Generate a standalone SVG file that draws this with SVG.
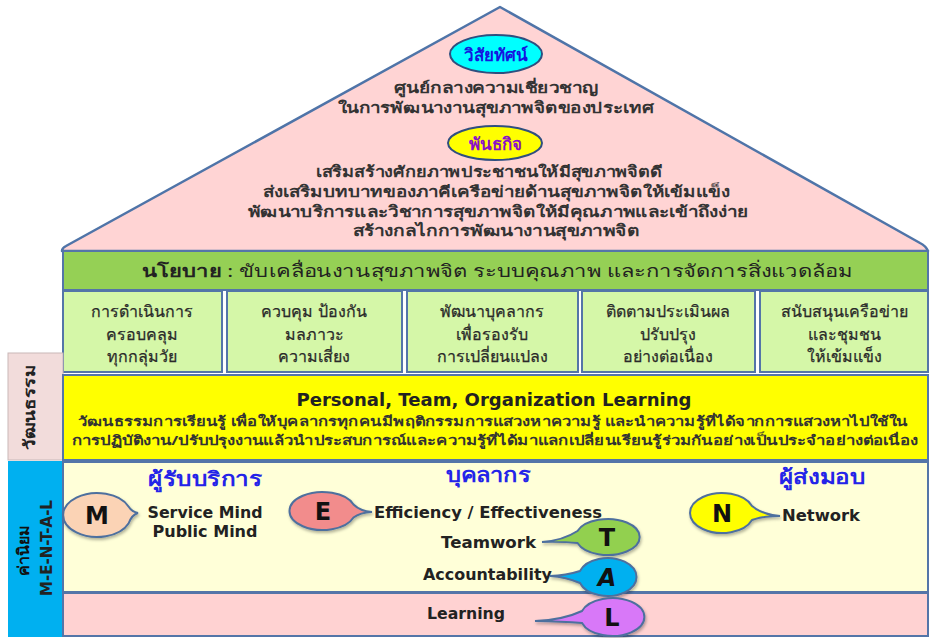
<svg xmlns="http://www.w3.org/2000/svg" width="932" height="638" viewBox="0 0 932 638">
  <defs>
    <filter id="soft-shadow" x="-30%" y="-30%" width="160%" height="160%">
      <feDropShadow dx="1" dy="2" stdDeviation="1.6" flood-color="#000" flood-opacity="0.3"/>
    </filter>
  </defs>
  <style>
    .th { font-family: "Noto Sans", "DejaVu Sans", sans-serif; }
    .en { font-family: "DejaVu Sans", "Liberation Sans", sans-serif; font-weight: bold; fill: #222; }
    .roof-t { font-size: 15px; font-weight: bold; fill: #333; text-anchor: middle; }
    .box-t { font-size: 16px; fill: #2a2a2a; text-anchor: middle; stroke: #2a2a2a; stroke-width: 0.25; }
    .band-t { font-size: 13px; font-weight: bold; fill: #333; text-anchor: middle; }
    .head { font-size: 20px; font-weight: bold; fill: #2424E8; text-anchor: middle; }
    .frame { stroke: #5475A8; stroke-width: 2; }
    .bub { stroke: #4E6F9E; stroke-width: 2; filter: url(#soft-shadow); }
    .letter { font-family: "DejaVu Sans", sans-serif; font-size: 24px; font-weight: bold; fill: #111; text-anchor: middle; }
  </style>

  <!-- roof: vision and mission -->
  <g id="roof">
    <path d="M500,7 L66,246 Q62,248 62,251 L928,251 Q926,246 920,243 Z" fill="#FFD4D4" stroke="#4F74A8" stroke-width="2.5" stroke-linejoin="round"/>
    <g id="vision">
      <ellipse cx="496" cy="54" rx="46" ry="19" fill="#00FFFF" stroke="#2F4F7F" stroke-width="2"/>
      <text class="th" x="496" y="61" font-size="17" font-weight="bold" fill="#1515E0" text-anchor="middle">วิสัยทัศน์</text>
      <text class="th roof-t" x="496" y="93" textLength="205" lengthAdjust="spacingAndGlyphs">ศูนย์กลางความเชี่ยวชาญ</text>
      <text class="th roof-t" x="496" y="113" textLength="317" lengthAdjust="spacingAndGlyphs">ในการพัฒนางานสุขภาพจิตของประเทศ</text>
    </g>
    <g id="mission">
      <ellipse cx="495" cy="143" rx="47" ry="17" fill="#FFFF00" stroke="#2F4F7F" stroke-width="2"/>
      <text class="th" x="495" y="150" font-size="17" font-weight="bold" fill="#8B10C8" text-anchor="middle">พันธกิจ</text>
      <text class="th roof-t" x="489" y="177" textLength="347" lengthAdjust="spacingAndGlyphs">เสริมสร้างศักยภาพประชาชนให้มีสุขภาพจิตดี</text>
      <text class="th roof-t" x="496" y="197" textLength="467" lengthAdjust="spacingAndGlyphs">ส่งเสริมบทบาทของภาคีเครือข่ายด้านสุขภาพจิตให้เข้มแข็ง</text>
      <text class="th roof-t" x="498" y="217" textLength="501" lengthAdjust="spacingAndGlyphs">พัฒนาบริการและวิชาการสุขภาพจิตให้มีคุณภาพและเข้าถึงง่าย</text>
      <text class="th roof-t" x="496" y="236" textLength="287" lengthAdjust="spacingAndGlyphs">สร้างกลไกการพัฒนางานสุขภาพจิต</text>
    </g>
  </g>

  <!-- policy bar -->
  <g id="policy">
    <rect x="63" y="251" width="865" height="39" fill="#95D055" class="frame"/>
    <text class="th" x="497" y="277" font-size="17" fill="#222" text-anchor="middle" textLength="711" lengthAdjust="spacingAndGlyphs"><tspan font-weight="bold">นโยบาย</tspan> : ขับเคลื่อนงานสุขภาพจิต ระบบคุณภาพ และการจัดการสิ่งแวดล้อม</text>
  </g>

  <!-- five strategy pillars -->
  <g id="pillar-1">
    <rect x="63" y="291" width="159" height="81" fill="#D5F7A8" class="frame"/>
    <text class="th box-t" x="142" y="317">การดำเนินการ</text>
    <text class="th box-t" x="142" y="340">ครอบคลุม</text>
    <text class="th box-t" x="142" y="362">ทุกกลุ่มวัย</text>
  </g>
  <g id="pillar-2">
    <rect x="227" y="291" width="175" height="81" fill="#D5F7A8" class="frame"/>
    <text class="th box-t" x="314" y="317">ควบคุม ป้องกัน</text>
    <text class="th box-t" x="314" y="340">มลภาวะ</text>
    <text class="th box-t" x="314" y="362">ความเสี่ยง</text>
  </g>
  <g id="pillar-3">
    <rect x="407" y="291" width="171" height="81" fill="#D5F7A8" class="frame"/>
    <text class="th box-t" x="492" y="317">พัฒนาบุคลากร</text>
    <text class="th box-t" x="492" y="340">เพื่อรองรับ</text>
    <text class="th box-t" x="492" y="362">การเปลี่ยนแปลง</text>
  </g>
  <g id="pillar-4">
    <rect x="582" y="291" width="173" height="81" fill="#D5F7A8" class="frame"/>
    <text class="th box-t" x="668" y="317">ติดตามประเมินผล</text>
    <text class="th box-t" x="668" y="340">ปรับปรุง</text>
    <text class="th box-t" x="668" y="362">อย่างต่อเนื่อง</text>
  </g>
  <g id="pillar-5">
    <rect x="760" y="291" width="168" height="81" fill="#D5F7A8" class="frame"/>
    <text class="th box-t" x="844" y="317">สนับสนุนเครือข่าย</text>
    <text class="th box-t" x="844" y="340">และชุมชน</text>
    <text class="th box-t" x="844" y="362">ให้เข้มแข็ง</text>
  </g>

  <!-- culture band -->
  <g id="culture-tab">
    <rect x="8" y="353" width="55" height="107" fill="#F2DCDB" stroke="#C9B8B8" stroke-width="1"/>
    <text class="th" transform="translate(35,407) rotate(-90)" font-size="16" font-weight="bold" fill="#222" text-anchor="middle" textLength="85" lengthAdjust="spacingAndGlyphs">วัฒนธรรม</text>
  </g>
  <g id="culture">
    <rect x="63" y="375" width="865" height="85" fill="#FFFF00" class="frame"/>
    <text class="en" x="494" y="406" font-size="18" text-anchor="middle" textLength="395" lengthAdjust="spacingAndGlyphs">Personal, Team, Organization Learning</text>
    <text class="th band-t" x="493" y="426" textLength="830" lengthAdjust="spacingAndGlyphs">วัฒนธรรมการเรียนรู้ เพื่อให้บุคลากรทุกคนมีพฤติกรรมการแสวงหาความรู้ และนำความรู้ที่ได้จากการแสวงหาไปใช้ใน</text>
    <text class="th band-t" x="495" y="445" textLength="846" lengthAdjust="spacingAndGlyphs">การปฏิบัติงาน/ปรับปรุงงานแล้วนำประสบการณ์และความรู้ที่ได้มาแลกเปลี่ยนเรียนรู้ร่วมกันอย่างเป็นประจำอย่างต่อเนื่อง</text>
  </g>

  <!-- core values -->
  <g id="values-tab">
    <rect x="8" y="461" width="55" height="176" fill="#00B0F0"/>
    <text class="th" transform="translate(29,550) rotate(-90)" font-size="16" font-weight="bold" fill="#111" text-anchor="middle">ค่านิยม</text>
    <text class="en" transform="translate(52,548) rotate(-90)" font-size="15" fill="#111" text-anchor="middle">M-E-N-T-A-L</text>
  </g>
  <g id="values">
    <rect x="63" y="462" width="865" height="130" fill="#FFFFD8" class="frame"/>
    <rect x="63" y="593" width="865" height="43" fill="#FFD2D2" class="frame"/>
    <text class="th head" x="205" y="486" textLength="114" lengthAdjust="spacingAndGlyphs">ผู้รับบริการ</text>
    <text class="th head" x="488" y="482" textLength="85" lengthAdjust="spacingAndGlyphs">บุคลากร</text>
    <text class="th head" x="822" y="484" textLength="87" lengthAdjust="spacingAndGlyphs">ผู้ส่งมอบ</text>
    <text class="en" x="205" y="518" font-size="16" text-anchor="middle" textLength="115" lengthAdjust="spacingAndGlyphs">Service Mind</text>
    <text class="en" x="205" y="537" font-size="16" text-anchor="middle" textLength="105" lengthAdjust="spacingAndGlyphs">Public Mind</text>
    <text class="en" x="374" y="518" font-size="15" textLength="228" lengthAdjust="spacingAndGlyphs">Efficiency / Effectiveness</text>
    <text class="en" x="536" y="548" font-size="15" text-anchor="end" textLength="95" lengthAdjust="spacingAndGlyphs">Teamwork</text>
    <text class="en" x="552" y="580" font-size="15" text-anchor="end" textLength="129" lengthAdjust="spacingAndGlyphs">Accountability</text>
    <text class="en" x="466" y="619" font-size="15" text-anchor="middle" textLength="78" lengthAdjust="spacingAndGlyphs">Learning</text>
    <text class="en" x="782" y="521" font-size="15" textLength="78" lengthAdjust="spacingAndGlyphs">Network</text>
  </g>

  <!-- letter bubbles, each with a pointed tail toward its label -->
  <g id="bubble-m">
    <path class="bub" fill="#FBD3B5" d="M128.5,506.5 A34 22 0 1 0 128.5,523.5 Q132,514.5 138,513 Q132,512 128.5,506.5 Z"/>
    <text class="letter" x="97" y="524">M</text>
  </g>
  <g id="bubble-e">
    <path class="bub" fill="#F28C8C" d="M353.5,504.5 A33 19 0 1 0 353.5,517.5 Q360,512.5 372,512 Q360,511 353.5,504.5 Z"/>
    <text class="letter" x="323" y="520">E</text>
  </g>
  <g id="bubble-n">
    <path class="bub" fill="#FFFF00" d="M752,506 A32 20 0 1 0 752,520 Q762,516 780,516 Q762,514.5 752,506 Z"/>
    <text class="letter" x="722" y="522">N</text>
  </g>
  <g id="bubble-t">
    <path class="bub" fill="#92D050" d="M577.5,531 A32 18 0 1 1 577.5,543 Q563,541.5 542,542 Q563,540.5 577.5,531 Z"/>
    <text class="letter" x="607" y="546">T</text>
  </g>
  <g id="bubble-a">
    <path class="bub" fill="#00B0F0" d="M580,571 A29 19 0 1 1 580,583 Q566,577 550,576 Q566,575.5 580,571 Z"/>
    <text class="letter" x="607" y="586" font-style="italic">A</text>
  </g>
  <g id="bubble-l">
    <path class="bub" fill="#D878F8" d="M582,611 A32 19 0 1 1 582,623 Q563,621.5 535,621 Q563,620 582,611 Z"/>
    <text class="letter" x="612" y="626">L</text>
  </g>
</svg>
